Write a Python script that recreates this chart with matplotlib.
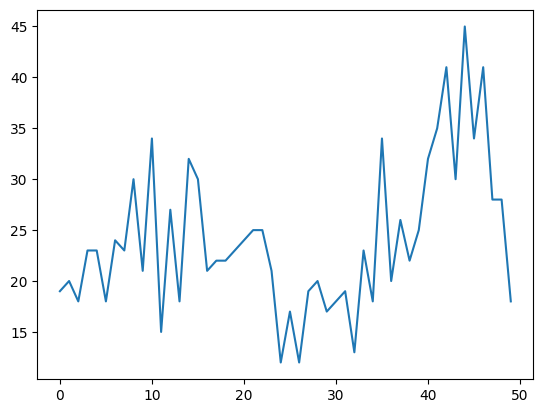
import matplotlib
matplotlib.use("Agg")
import matplotlib.pyplot as plt

# 読み取った値
x = list(range(50))
y = [19, 20, 18, 23, 23, 18, 24, 23, 30, 21,
     34, 15, 27, 18, 32, 30, 21, 22, 22, 23,
     24, 25, 25, 21, 12, 17, 12, 19, 20, 17,
     18, 19, 13, 23, 18, 34, 20, 26, 22, 25,
     32, 35, 41, 30, 45, 34, 41, 28, 28, 18]

fig, ax = plt.subplots(figsize=(6.4, 4.8), dpi=100)
ax.plot(x, y)
fig.savefig("out.png", dpi=100, bbox_inches="tight")
